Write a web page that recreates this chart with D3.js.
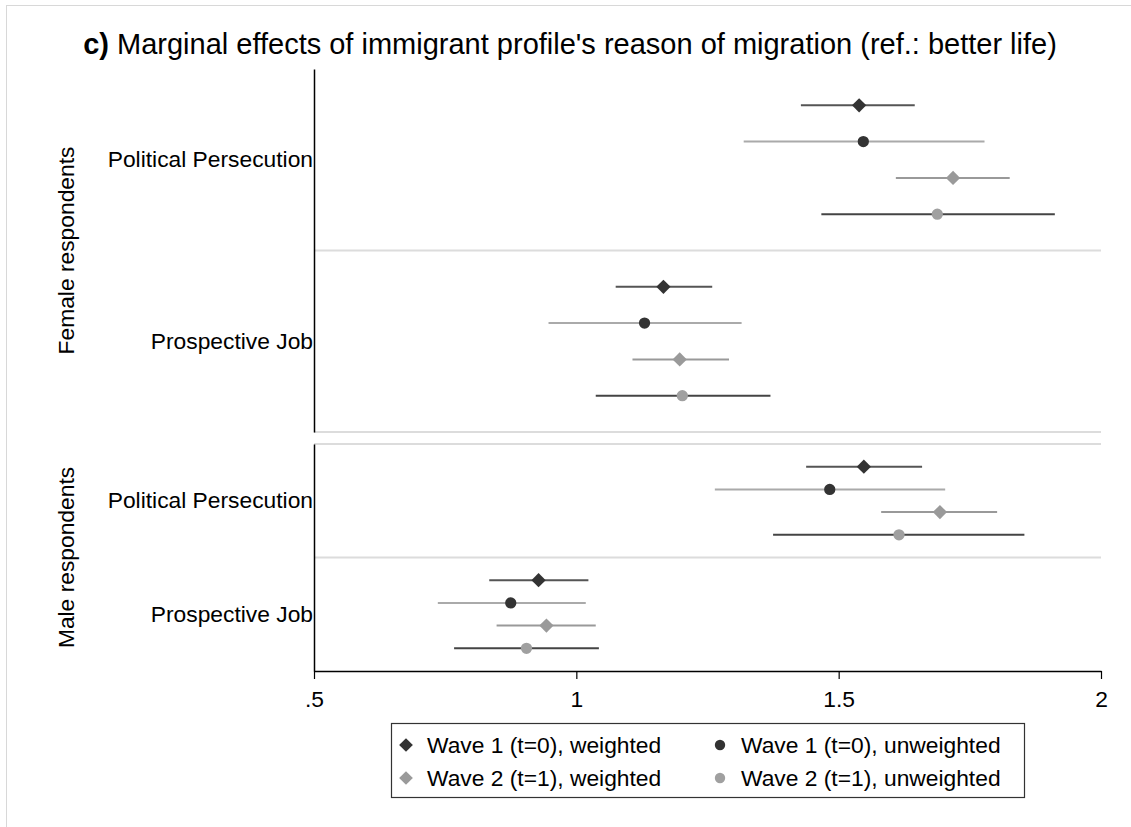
<!DOCTYPE html>
<html><head><meta charset="utf-8">
<script src="https://cdn.jsdelivr.net/npm/d3@7"></script>
<style>
html,body{margin:0;padding:0;background:#fff;}
svg{display:block;font-family:"Liberation Sans",Arial,sans-serif;}
</style></head>
<body><svg id="chart" width="1131" height="827"></svg>
<script>
const titleBold = "c)";
const titleRest = " Marginal effects of immigrant profile's reason of migration (ref.: better life)";
const panels = ["Female respondents", "Male respondents"];
const categories = ["Political Persecution", "Prospective Job"];
const series = ["Wave 1 (t=0), weighted", "Wave 1 (t=0), unweighted", "Wave 2 (t=1), weighted", "Wave 2 (t=1), unweighted"];
const xTicks = [0.5, 1, 1.5, 2];
const xTickLabels = [".5", "1", "1.5", "2"];

// Female respondents
const femalePolEst = [1.539, 1.547, 1.718, 1.688];
const femalePolLo  = [1.428, 1.319, 1.609, 1.467];
const femalePolHi  = [1.645, 1.778, 1.826, 1.912];
const femaleJobEst = [1.166, 1.130, 1.197, 1.202];
const femaleJobLo  = [1.075, 0.947, 1.107, 1.037];
const femaleJobHi  = [1.259, 1.315, 1.291, 1.370];
// Male respondents
const malePolEst = [1.548, 1.483, 1.693, 1.615];
const malePolLo  = [1.438, 1.264, 1.581, 1.375];
const malePolHi  = [1.659, 1.703, 1.802, 1.854];
const maleJobEst = [0.928, 0.875, 0.943, 0.905];
const maleJobLo  = [0.834, 0.736, 0.848, 0.767];
const maleJobHi  = [1.023, 1.018, 1.037, 1.043];

const panelData = [
  [[femalePolEst, femalePolLo, femalePolHi], [femaleJobEst, femaleJobLo, femaleJobHi]],
  [[malePolEst, malePolLo, malePolHi], [maleJobEst, maleJobLo, maleJobHi]]
];

// styles
const markerShape = ["diamond", "circle", "diamond", "circle"];
const markerColor = ["#333333", "#333333", "#9a9a9a", "#a0a0a0"];
const lineColor   = ["#555555", "#aaaaaa", "#999999", "#444444"];

const svg = d3.select("#chart");
const FONT = 22.8;

// outer frame
svg.append("rect").attr("x", 6.5).attr("y", 5.5).attr("width", 1200).attr("height", 900)
  .attr("fill", "none").attr("stroke", "#d8d8d8").attr("stroke-width", 1);

// title
const t = svg.append("text").attr("x", 570).attr("y", 54).attr("text-anchor", "middle")
  .attr("font-size", 29).attr("fill", "#000");
t.append("tspan").attr("font-weight", "bold").text(titleBold);
t.append("tspan").text(titleRest);

const x = d3.scaleLinear().domain([0.5, 2]).range([314, 1101]);
const panelRanges = [[69, 432], [444, 671]];

const sym = {
  diamond: d3.symbol().type(d3.symbolDiamond2),
  circle: d3.symbol().type(d3.symbolCircle)
};

panels.forEach((pname, pi) => {
  const [y0, y1] = panelRanges[pi];
  const band = d3.scaleBand().domain(categories).range([y0, y1]);
  const g = svg.append("g");

  // light separators
  categories.forEach((c, ci) => {
    const yy = pi === 0 ? band(c) + band.bandwidth() : band(c);
    g.append("line").attr("x1", x(0.5)).attr("x2", x(2)).attr("y1", yy).attr("y2", yy)
      .attr("stroke", "#dcdcdc").attr("stroke-width", 2);
  });

  // y axis
  const yAxis = d3.axisLeft(band).tickSize(0).tickPadding(1).tickSizeOuter(0);
  const ya = g.append("g").attr("transform", `translate(${x(0.5)},0)`).call(yAxis);
  ya.select(".domain").attr("stroke", "#000").attr("stroke-width", 1.5);
  ya.selectAll("text").attr("font-size", FONT).attr("fill", "#000")
    .attr("font-family", "Liberation Sans, Arial, sans-serif");

  // panel label
  g.append("text").attr("transform", `translate(74,${(y0 + y1) / 2}) rotate(-90)`)
    .attr("text-anchor", "middle").attr("font-size", FONT).attr("fill", "#000").text(pname);

  // points and CIs
  categories.forEach((c, ci) => {
    const inner = d3.scalePoint().domain(series).range([band(c), band(c) + band.bandwidth()]).padding(1);
    const [est, lo, hi] = panelData[pi][ci];
    series.forEach((s, si) => {
      const yy = inner(s);
      g.append("line").attr("x1", x(lo[si])).attr("x2", x(hi[si])).attr("y1", yy).attr("y2", yy)
        .attr("stroke", lineColor[si]).attr("stroke-width", 2);
      const shape = markerShape[si];
      g.append("path")
        .attr("d", sym[shape].size(shape === "diamond" ? 130 : 100)())
        .attr("transform", `translate(${x(est[si])},${yy})`)
        .attr("fill", markerColor[si]);
    });
  });

  if (pi === 1) {
    const xAxis = d3.axisBottom(x).tickValues(xTicks).tickSize(8).tickSizeOuter(0).tickPadding(12)
      .tickFormat((d, i) => xTickLabels[i]);
    const xa = g.append("g").attr("transform", `translate(0,${y1})`).call(xAxis);
    xa.select(".domain").attr("stroke", "#000").attr("stroke-width", 1.5);
    xa.selectAll(".tick line").attr("stroke", "#000").attr("stroke-width", 1.2);
    xa.selectAll("text").attr("font-size", FONT).attr("fill", "#000")
      .attr("font-family", "Liberation Sans, Arial, sans-serif");
  }
});

// legend
const lg = svg.append("g");
lg.append("rect").attr("x", 391.5).attr("y", 723.5).attr("width", 633).attr("height", 74)
  .attr("fill", "#fff").attr("stroke", "#333").attr("stroke-width", 1.2);
const legPos = [[406, 745], [720, 745], [406, 778], [720, 778]];
series.forEach((s, si) => {
  const [lx, ly] = legPos[si];
  const shape = markerShape[si];
  lg.append("path").attr("d", sym[shape].size(shape === "diamond" ? 120 : 85)())
    .attr("transform", `translate(${lx},${ly})`).attr("fill", markerColor[si]);
  lg.append("text").attr("x", lx + 21).attr("y", ly).attr("dy", "0.35em")
    .attr("font-size", FONT).attr("fill", "#000").text(s);
});
</script>
</body></html>
